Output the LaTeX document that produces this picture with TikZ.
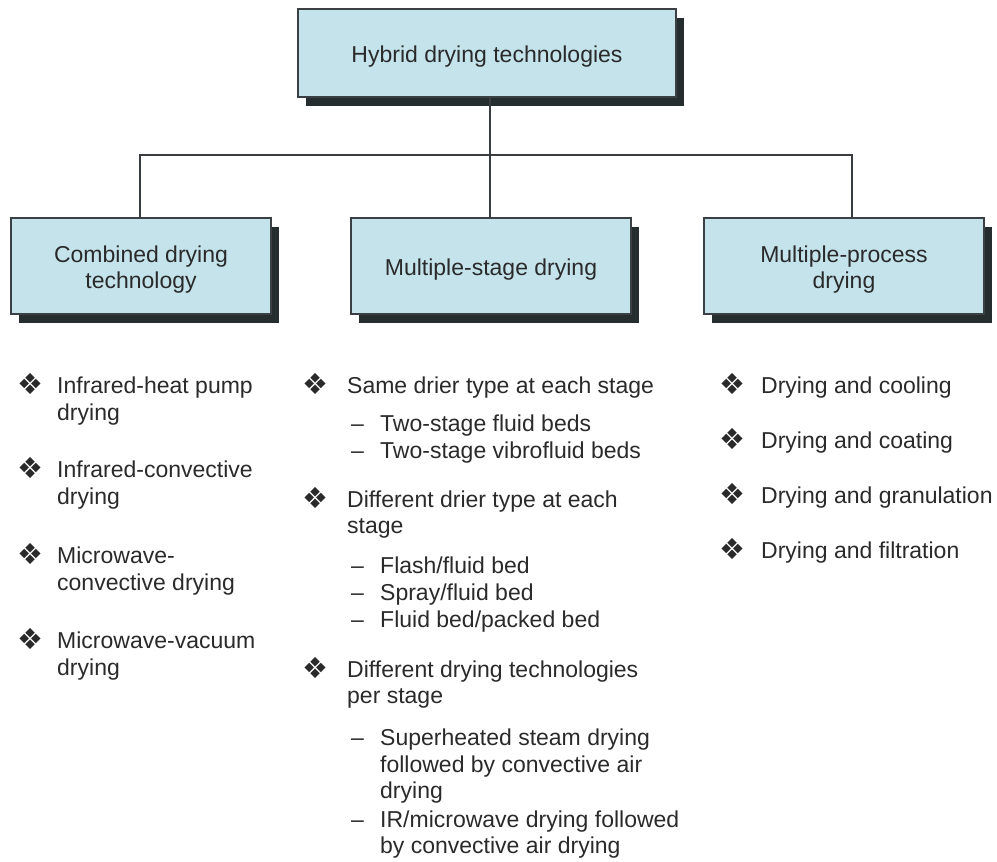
\documentclass[tikz,border=0pt]{standalone}
\usepackage{fontspec}
\setmainfont{Liberation Sans}
\newfontfamily\dejavu{DejaVu Sans}
\usetikzlibrary{shadows}
\definecolor{boxfill}{HTML}{C4E3EB}
\definecolor{boxline}{HTML}{3A4043}
\definecolor{shadowc}{HTML}{262D2F}
\definecolor{txt}{HTML}{2A2A2A}
\definecolor{wire}{HTML}{3A3D3F}
\tikzset{
  box/.style={draw=boxline, line width=1.6pt, fill=boxfill, inner sep=0pt,
    general shadow={fill=shadowc, shadow xshift=8pt, shadow yshift=-9pt}},
  boxtext/.style={inner sep=0pt, align=center, text=txt, yshift=-3.5pt,
    font=\fontsize{23}{26.5}\selectfont},
  wireline/.style={draw=wire, line width=1.6pt},
  item/.style={anchor=base west, inner sep=0pt, text=txt, font=\fontsize{23}{26.5}\selectfont},
  bul/.style={anchor=base west, inner sep=0pt, text=txt, yshift=-1.3pt, xshift=-2.7pt,
    font=\dejavu\fontsize{29}{29}\selectfont},
}
\begin{document}
\begin{tikzpicture}[x=1pt,y=-1pt]
\useasboundingbox (0,0) rectangle (997,862);
% boxes
\node[box, minimum width=378pt, minimum height=88pt,
  label={[boxtext]center:Hybrid drying technologies}] (top) at (487,53) {};
\node[box, minimum width=260pt, minimum height=96pt,
  label={[boxtext]center:Combined drying\\technology}] (left) at (141,266) {};
\node[box, minimum width=280pt, minimum height=96pt,
  label={[boxtext]center:Multiple-stage drying}] (mid) at (491,266) {};
\node[box, minimum width=280pt, minimum height=96pt,
  label={[boxtext]center:Multiple-process\\drying}] (right) at (844,266) {};
% connectors
\coordinate (jl) at (140,155);
\coordinate (jm) at (490,155);
\coordinate (jr) at (852,155);
\draw[wireline] (jm |- top.south) -- (jm |- mid.north);
\draw[wireline] (jl |- left.north) -- (jl) -- (jr) -- (jr |- right.north);
% left column
\node[bul] (lb1) at (20,393) {❖};
\node[item] (l1a) at (57,393) {Infrared-heat pump};
\node[item] (l1b) at (57,420) {drying};
\node[bul] (lb2) at (20,477) {❖};
\node[item] (l2a) at (57,477) {Infrared-convective};
\node[item] (l2b) at (57,504) {drying};
\node[bul] (lb3) at (20,563) {❖};
\node[item] (l3a) at (57,563) {Microwave-};
\node[item] (l3b) at (57,590) {convective drying};
\node[bul] (lb4) at (20,648) {❖};
\node[item] (l4a) at (57,648) {Microwave-vacuum};
\node[item] (l4b) at (57,675) {drying};
% middle column
\node[bul] (mb1) at (305,393) {❖};
\node[item] (m1a) at (347,393) {Same drier type at each stage};
\node[item] (md1) at (351,431) {–};
\node[item] (m1b) at (380,431) {Two-stage fluid beds};
\node[item] (md2) at (351,458) {–};
\node[item] (m1c) at (380,458) {Two-stage vibrofluid beds};
\node[bul] (mb2) at (305,507) {❖};
\node[item] (m2a) at (347,507) {Different drier type at each};
\node[item] (m2b) at (347,533) {stage};
\node[item] (md3) at (351,573) {–};
\node[item] (m2c) at (380,573) {Flash/fluid bed};
\node[item] (md4) at (351,600) {–};
\node[item] (m2d) at (380,600) {Spray/fluid bed};
\node[item] (md5) at (351,627) {–};
\node[item] (m2e) at (380,627) {Fluid bed/packed bed};
\node[bul] (mb3) at (305,677) {❖};
\node[item] (m3a) at (347,677) {Different drying technologies};
\node[item] (m3b) at (347,703) {per stage};
\node[item] (md6) at (351,745) {–};
\node[item] (m3c) at (380,745) {Superheated steam drying};
\node[item] (m3d) at (380,772) {followed by convective air};
\node[item] (m3e) at (380,798) {drying};
\node[item] (md7) at (351,827) {–};
\node[item] (m3f) at (380,827) {IR/microwave drying followed};
\node[item] (m3g) at (380,853) {by convective air drying};
% right column
\node[bul] (rb1) at (722,393) {❖};
\node[item] (r1) at (761,393) {Drying and cooling};
\node[bul] (rb2) at (722,448) {❖};
\node[item] (r2) at (761,448) {Drying and coating};
\node[bul] (rb3) at (722,503) {❖};
\node[item] (r3) at (761,503) {Drying and granulation};
\node[bul] (rb4) at (722,558) {❖};
\node[item] (r4) at (761,558) {Drying and filtration};
\end{tikzpicture}
\end{document}
